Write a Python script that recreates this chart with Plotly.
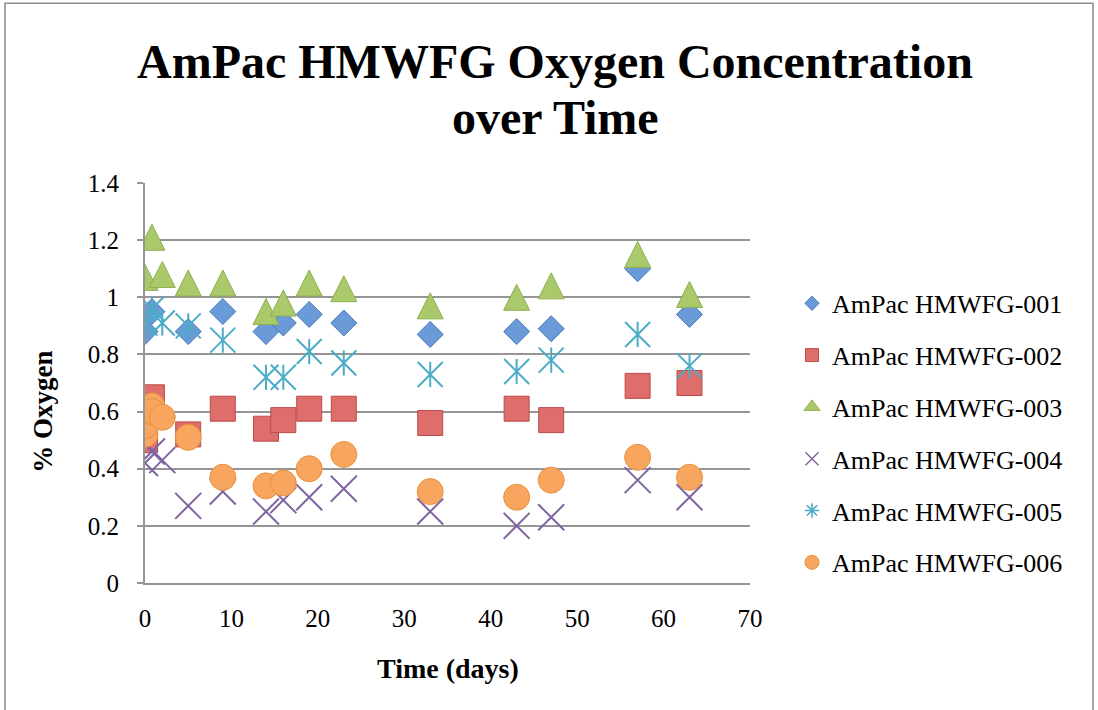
import plotly.graph_objects as go

# Oxygen readings (% O2) per sample, by time in days
days_001 = [0, 0.8, 5, 9, 14, 16, 19, 23, 33, 43, 47, 57, 63]
oxy_001 = [0.88, 0.95, 0.88, 0.95, 0.88, 0.91, 0.94, 0.91, 0.87, 0.88, 0.89, 1.10, 0.94]

days_002 = [0, 0.8, 5, 9, 14, 16, 19, 23, 33, 43, 47, 57, 63]
oxy_002 = [0.50, 0.65, 0.52, 0.61, 0.54, 0.57, 0.61, 0.61, 0.56, 0.61, 0.57, 0.69, 0.70]

days_003 = [0, 0.8, 2, 5, 9, 14, 16, 19, 23, 33, 43, 47, 57, 63]
oxy_003 = [1.07, 1.21, 1.08, 1.05, 1.05, 0.95, 0.98, 1.05, 1.03, 0.97, 1.00, 1.04, 1.15, 1.01]

days_004 = [0, 0.8, 2, 5, 9, 14, 16, 19, 23, 33, 43, 47, 57, 63]
oxy_004 = [0.42, 0.46, 0.43, 0.27, 0.32, 0.25, 0.29, 0.30, 0.33, 0.25, 0.20, 0.23, 0.36, 0.30]

days_005 = [0, 0.8, 2, 5, 9, 14, 16, 19, 23, 33, 43, 47, 57, 63]
oxy_005 = [0.91, 0.96, 0.91, 0.90, 0.85, 0.72, 0.72, 0.81, 0.77, 0.73, 0.74, 0.78, 0.87, 0.76]

days_006 = [0, 0, 0.8, 0.8, 2, 5, 9, 14, 16, 19, 23, 33, 43, 47, 57, 63]
oxy_006 = [0.52, 0.55, 0.62, 0.60, 0.58, 0.51, 0.37, 0.34, 0.35, 0.40, 0.45, 0.32, 0.30, 0.36, 0.44, 0.37]

series_names = ["AmPac HMWFG-001", "AmPac HMWFG-002", "AmPac HMWFG-003",
                "AmPac HMWFG-004", "AmPac HMWFG-005", "AmPac HMWFG-006"]

title_lines = ["AmPac HMWFG Oxygen Concentration", "over Time"]

x_ticks = [0, 10, 20, 30, 40, 50, 60, 70]
x_tick_text = ["0", "10", "20", "30", "40", "50", "60", "70"]
y_ticks = [0, 0.2, 0.4, 0.6, 0.8, 1.0, 1.2, 1.4]
y_tick_text = ["0", "0.2", "0.4", "0.6", "0.8", "1", "1.2", "1.4"]

SERIF = "Liberation Serif, Times New Roman, serif"
GRID = "#959595"

BLUE_F, BLUE_L = "#6B9AD8", "#4A7AB8"
RED_F, RED_L = "#DD6E6B", "#BE4B48"
GREEN_F, GREEN_L = "#A9C96A", "#8FB04F"
PURPLE = "#8064A2"
TEAL = "#4BACC6"
ORANGE_F, ORANGE_L = "#F7A55F", "#E8913E"

# plot-area geometry in pixels, used to place paper-referenced items
PX_L, PX_R, PX_T, PX_B = 145, 750, 183, 583.5


def px_x(px):
    return (px - PX_L) / (PX_R - PX_L)


def px_y(py):
    return (PX_B - py) / (PX_B - PX_T)


fig = go.Figure()

# --- data markers (drawn in series order so later series sit on top) ---
fig.add_trace(go.Scatter(
    x=days_001, y=oxy_001, mode="markers", showlegend=False, name=series_names[0],
    marker=dict(symbol="diamond", size=20, color=BLUE_F, line=dict(color=BLUE_L, width=1))))
fig.add_trace(go.Scatter(
    x=days_002, y=oxy_002, mode="markers", showlegend=False, name=series_names[1],
    marker=dict(symbol="square", size=25, color=RED_F, line=dict(color=RED_L, width=1))))
# upright triangle, centred on the point: a down-arrow pushed back by half its size, then flipped
fig.add_trace(go.Scatter(
    x=days_003, y=oxy_003, mode="markers", showlegend=False, name=series_names[2],
    marker=dict(symbol="arrow-down", size=26, angle=180, standoff=13,
                color=GREEN_F, line=dict(color=GREEN_L, width=1))))
fig.add_trace(go.Scatter(
    x=days_004, y=oxy_004, mode="markers", showlegend=False, name=series_names[3],
    marker=dict(symbol="x-thin-open", size=26, color=PURPLE, line=dict(color=PURPLE, width=2))))
fig.add_trace(go.Scatter(
    x=days_005, y=oxy_005, mode="markers", showlegend=False, name=series_names[4],
    marker=dict(symbol="x-thin-open", size=25, color=TEAL, line=dict(color=TEAL, width=2))))
fig.add_trace(go.Scatter(
    x=days_005, y=oxy_005, mode="markers", showlegend=False, name=series_names[4],
    marker=dict(symbol="line-ns-open", size=18, color=TEAL, line=dict(color=TEAL, width=2))))
fig.add_trace(go.Scatter(
    x=days_006, y=oxy_006, mode="markers", showlegend=False, name=series_names[5],
    marker=dict(symbol="circle", size=26, color=ORANGE_F, line=dict(color=ORANGE_L, width=1))))

# --- legend entries ---
legend_markers = [
    dict(symbol="diamond", size=11, color=BLUE_F, line=dict(color=BLUE_L, width=1)),
    dict(symbol="square", size=13, color=RED_F, line=dict(color=RED_L, width=1)),
    dict(symbol="triangle-up", size=14, color=GREEN_F, line=dict(color=GREEN_L, width=1)),
    dict(symbol="x-thin-open", size=13, color=PURPLE, line=dict(color=PURPLE, width=1.5)),
    dict(symbol="asterisk-open", size=12, color=TEAL, line=dict(color=TEAL, width=1.5)),
    dict(symbol="circle", size=14, color=ORANGE_F, line=dict(color=ORANGE_L, width=1)),
]
for i, (nm, mk) in enumerate(zip(series_names, legend_markers)):
    fig.add_trace(go.Scatter(x=[None], y=[None], mode="markers", name=nm,
                             legendgroup=f"g{i}", marker=mk, showlegend=True))

title_annotations = [
    dict(text=f"<b>{line}</b>", xref="paper", yref="paper",
         x=px_x(555), y=px_y(cy), xanchor="center", yanchor="middle",
         showarrow=False, font=dict(family=SERIF, size=48, color="black"))
    for line, cy in zip(title_lines, [61, 117])
]

fig.update_layout(
    width=1098, height=710,
    paper_bgcolor="white", plot_bgcolor="white",
    margin=dict(l=PX_L, r=1098 - PX_R, t=PX_T, b=710 - PX_B),
    font=dict(family=SERIF, color="black"),
    xaxis=dict(
        range=[0, 70], tickvals=x_ticks, ticktext=x_tick_text,
        showgrid=False, zeroline=False, showline=True, linecolor=GRID, linewidth=2,
        ticks="", ticklabelstandoff=12, tickfont=dict(family=SERIF, size=25)),
    yaxis=dict(
        range=[0, 1.4], tickvals=y_ticks, ticktext=y_tick_text,
        showgrid=True, gridcolor=GRID, gridwidth=2, zeroline=False,
        showline=True, linecolor=GRID, linewidth=2,
        ticks="outside", ticklen=6, tickcolor=GRID, tickwidth=2,
        ticklabelstandoff=13, tickfont=dict(family=SERIF, size=25)),
    legend=dict(
        x=px_x(792), y=px_y(280), xanchor="left", yanchor="top",
        font=dict(family=SERIF, size=26), tracegroupgap=15,
        bgcolor="rgba(0,0,0,0)", itemsizing="trace"),
    annotations=title_annotations + [
        dict(text="<b>% Oxygen</b>", textangle=-90, xref="paper", yref="paper",
             x=px_x(43), y=px_y(412), xanchor="center", yanchor="middle",
             showarrow=False, font=dict(family=SERIF, size=27)),
        dict(text="<b>Time (days)</b>", xref="paper", yref="paper",
             x=0.5, y=px_y(669), xanchor="center", yanchor="middle",
             showarrow=False, font=dict(family=SERIF, size=28)),
    ],
    shapes=[
        dict(type="rect", xref="paper", yref="paper",
             x0=px_x(5), x1=px_x(1093), y0=px_y(720), y1=px_y(3),
             line=dict(color="#8C8C8C", width=1.5), fillcolor="rgba(0,0,0,0)", layer="below"),
    ],
)

fig.write_html("out.html")
